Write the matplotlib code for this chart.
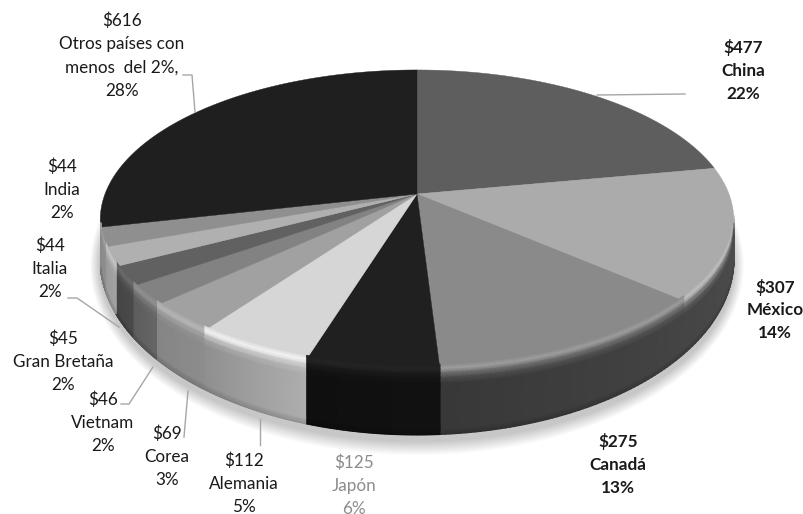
import numpy as np
import matplotlib
matplotlib.use('Agg')
import matplotlib.pyplot as plt

# importaciones por país, en sentido horario desde las 12
paises = ['China', 'México', 'Canadá', 'Japón', 'Alemania', 'Corea', 'Vietnam',
          'Gran Bretaña', 'Italia', 'India', 'Otros países con\nmenos  del 2%,']
valores = [477, 307, 275, 125, 112, 69, 46, 45, 44, 44, 616]
porcentajes = [22, 14, 13, 6, 5, 3, 2, 2, 2, 2, 28]

# tonos de gris de la cara superior y de la pared lateral
gris_sup = [0.37, 0.67, 0.54, 0.125, 0.84, 0.63, 0.51, 0.38, 0.69, 0.56, 0.12]
gris_izq = [0.30, 0.30, 0.27, 0.07, 0.68, 0.55, 0.40, 0.29, 0.64, 0.56, 0.09]
gris_der = [0.30, 0.27, 0.22, 0.06, 0.56, 0.52, 0.36, 0.27, 0.60, 0.54, 0.09]

# geometría del disco en píxeles
cx, cy_apice = 417, 194
k = 0.173
r_plano = 312
s_plano = 145.5
cy_base, ry_base, rx_base = 259, 176, 317

# posición de cada rótulo: centro x, y de la primera línea
pos_rotulos = [(743, 48), (775, 287), (618, 442), (354, 463), (244, 461), (167, 434),
               (103, 400), (63, 339), (50, 246), (62, 167), (122, 21)]
guias = [[(597, 95), (685, 94)],
         [(119, 327), (77, 298), (68, 298)],
         [(153, 367), (129, 404), (121, 404)],
         [(188, 391), (184, 437)],
         [(260, 419), (260, 445)],
         [(195, 112), (192, 75), (183, 75)]]


def proyectar(ang):
    # ang en grados, horario desde las 12; perspectiva de un círculo unidad
    t = np.radians(90 - ang)
    den = 1 + k * np.sin(t)
    return cx + r_plano * np.cos(t) / den, cy_apice - s_plano * np.sin(t) / den


def y_base(x):
    u = np.clip((x - cx) / rx_base, -1, 1)
    return cy_base + ry_base * np.sqrt(1 - u ** 2)


fig = plt.figure(figsize=(8.04, 5.14), dpi=100)
ax = fig.add_axes([0, 0, 1, 1])
ax.set_xlim(0, 804)
ax.set_ylim(514, 0)
ax.axis('off')
plt.rcParams['font.family'] = ['Lato', 'DejaVu Sans']

# sombra suave bajo el disco
tt = np.linspace(0, 2 * np.pi, 300)
for d in np.arange(1, 15):
    ax.fill(cx + (rx_base + d * 0.7) * np.cos(tt), cy_base + 6 + (ry_base + d) * np.sin(tt),
            color='black', alpha=0.014, lw=0, zorder=1)

limites = np.concatenate([[0], np.cumsum(valores)]) / np.sum(valores) * 360
frente_ini = 90 + np.degrees(np.arcsin(k))
# el último sector queda detrás y no muestra pared
frente_fin = limites[-2]

for i in range(len(valores)):
    a0, a1 = limites[i], limites[i + 1]

    # pared lateral con el brillo del borde
    b0, b1 = max(a0, frente_ini), min(a1, frente_fin)
    if b1 > b0:
        angs = np.linspace(b0, b1, 60)
        x, y = proyectar(angs)
        yb = y_base(x)
        h = yb - y
        desp = [-5, -1, 3, 8, 14]
        filas_y = [y + np.minimum(d, h) for d in desp] + [y + h * 0.92, yb]
        X = np.tile(x, (len(filas_y), 1))
        Y = np.array(filas_y)
        mezcla = np.linspace(0, 1, len(angs))
        pared = gris_izq[i] + (gris_der[i] - gris_izq[i]) * mezcla
        brillo = min(gris_sup[i] * 1.16, 0.97)
        C = np.array([np.full_like(pared, gris_sup[i]),
                      np.full_like(pared, brillo),
                      brillo * 0.55 + pared * 0.45,
                      brillo * 0.2 + pared * 0.8,
                      pared, pared, pared * 0.82])
        ax.pcolormesh(X, Y, C, cmap='gray', vmin=0, vmax=1, shading='gouraud', zorder=2)

    # cara superior
    angs = np.linspace(a0, a1, 120)
    x, y = proyectar(angs)
    ax.fill(np.r_[cx, x], np.r_[cy_apice, y], color=str(gris_sup[i]), ec=str(gris_sup[i]),
            lw=0.3, zorder=1.5 + i * 0.001)

# líneas guía
for g in guias:
    ax.plot([p[0] for p in g], [p[1] for p in g], color='#a6a6a6', lw=1, zorder=4)

# rótulos de datos
for i, (p, v, pc) in enumerate(zip(paises, valores, porcentajes)):
    negrita = i < 3
    color = '#8c8c8c' if p == 'Japón' else '#1a1a1a'
    lineas = [f'${v}'] + p.split('\n') + [f'{pc}%']
    x0, y0 = pos_rotulos[i]
    for j, linea in enumerate(lineas):
        ax.text(x0, y0 + j * 23.2, linea, ha='center', va='center', fontsize=12.3, color=color,
                fontweight='bold' if negrita else 'normal', zorder=5)

fig.savefig('out.png', dpi=100)
